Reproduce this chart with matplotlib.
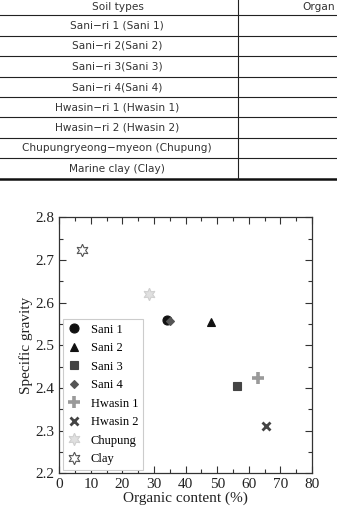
import matplotlib
matplotlib.use("Agg")
import matplotlib.pyplot as plt
from matplotlib.ticker import MultipleLocator

# Table rows (only the first column is visible in the crop)
header = ["Soil types", "Organ"]
soil_types = [
    "Sani\u2212ri 1 (Sani 1)",
    "Sani\u2212ri 2(Sani 2)",
    "Sani\u2212ri 3(Sani 3)",
    "Sani\u2212ri 4(Sani 4)",
    "Hwasin\u2212ri 1 (Hwasin 1)",
    "Hwasin\u2212ri 2 (Hwasin 2)",
    "Chupungryeong\u2212myeon (Chupung)",
    "Marine clay (Clay)",
]

# Scatter data
labels = ["Sani 1", "Sani 2", "Sani 3", "Sani 4", "Hwasin 1", "Hwasin 2", "Chupung", "Clay"]
organic = [34.0, 47.9, 56.1, 35.2, 62.8, 65.3, 28.5, 7.1]
gravity = [2.559, 2.555, 2.405, 2.558, 2.423, 2.312, 2.620, 2.723]

styles = [
    dict(marker="o", color="#111111", ms=6.5, mew=0.8),
    dict(marker="^", color="#111111", ms=6, mew=0.8),
    dict(marker="s", color="#444444", ms=6, mew=0.8),
    dict(marker="D", color="#555555", ms=4.5, mew=0.8),
    dict(marker="+", color="#9a9a9a", ms=8, mew=2.6),
    dict(marker="x", color="#444444", ms=6, mew=2.0),
    dict(marker=(6, 1, 0), color="#e0e0e0", ms=9, mew=0.8, mec="#d0d0d0"),
    dict(marker=(6, 1, 0), color="white", ms=9, mew=0.8, mec="#555555"),
]

W, H = 337, 519
fig = plt.figure(figsize=(W / 100, H / 100), dpi=100)

# ---- table part, drawn in pixel coordinates ----
tab = fig.add_axes([0, 0, 1, 1])
tab.set_xlim(0, W)
tab.set_ylim(H, 0)
tab.axis("off")

row_lines = [15, 36, 56, 77, 97, 117, 138, 158]
bottom = 179
col_split = 238
tfont = dict(family="DejaVu Sans", fontsize=7.6, color="#333333")

for y in row_lines:
    tab.plot([0, W], [y, y], color="#222222", lw=0.8)
tab.plot([0, W], [bottom, bottom], color="#111111", lw=1.8)
tab.plot([col_split, col_split], [0, bottom], color="#222222", lw=0.8)

tab.text(118, 7, header[0], ha="center", va="center", **tfont)
tab.text(335, 7, header[1], ha="right", va="center", **tfont)
edges = row_lines + [bottom]
for i, name in enumerate(soil_types):
    yc = (edges[i] + edges[i + 1]) / 2
    tab.text(117, yc, name, ha="center", va="center", **tfont)

# ---- scatter chart ----
left, right, top, bot = 59.3, 312, 217.3, 473.3
ax = fig.add_axes([left / W, 1 - bot / H, (right - left) / W, (bot - top) / H])

for x, y, lab, st in zip(organic, gravity, labels, styles):
    ax.plot(x, y, linestyle="none", marker=st["marker"], color=st["color"],
            markersize=st["ms"], markeredgecolor=st.get("mec", st["color"]),
            markeredgewidth=st["mew"], label=lab)

serif = "Liberation Serif"
ax.set_xlim(0, 80)
ax.set_ylim(2.2, 2.8)
ax.xaxis.set_major_locator(MultipleLocator(10))
ax.xaxis.set_minor_locator(MultipleLocator(5))
ax.yaxis.set_major_locator(MultipleLocator(0.1))
ax.yaxis.set_minor_locator(MultipleLocator(0.05))
ax.tick_params(which="both", direction="in", top=True, right=True, colors="#333333",
               labelcolor="#222222", labelsize=11)
ax.tick_params(which="major", length=5, width=0.8)
ax.tick_params(which="minor", length=3, width=0.8)
for lbl in ax.get_xticklabels() + ax.get_yticklabels():
    lbl.set_family(serif)
for sp in ax.spines.values():
    sp.set_color("#333333")
    sp.set_linewidth(0.9)

ax.set_xlabel("Organic content (%)", family=serif, fontsize=11, color="#222222", labelpad=0)
ax.set_ylabel("Specific gravity", family=serif, fontsize=11, color="#222222", labelpad=2)

leg = ax.legend(loc="lower left", bbox_to_anchor=(0.015, 0.012), borderaxespad=0,
                prop=dict(family=serif, size=9), frameon=True, fancybox=False,
                edgecolor="#cccccc", framealpha=1, handletextpad=0.8, labelspacing=0.52,
                borderpad=0.4, handlelength=1.0)
leg.get_frame().set_linewidth(0.8)

fig.savefig("out.png", dpi=100)
